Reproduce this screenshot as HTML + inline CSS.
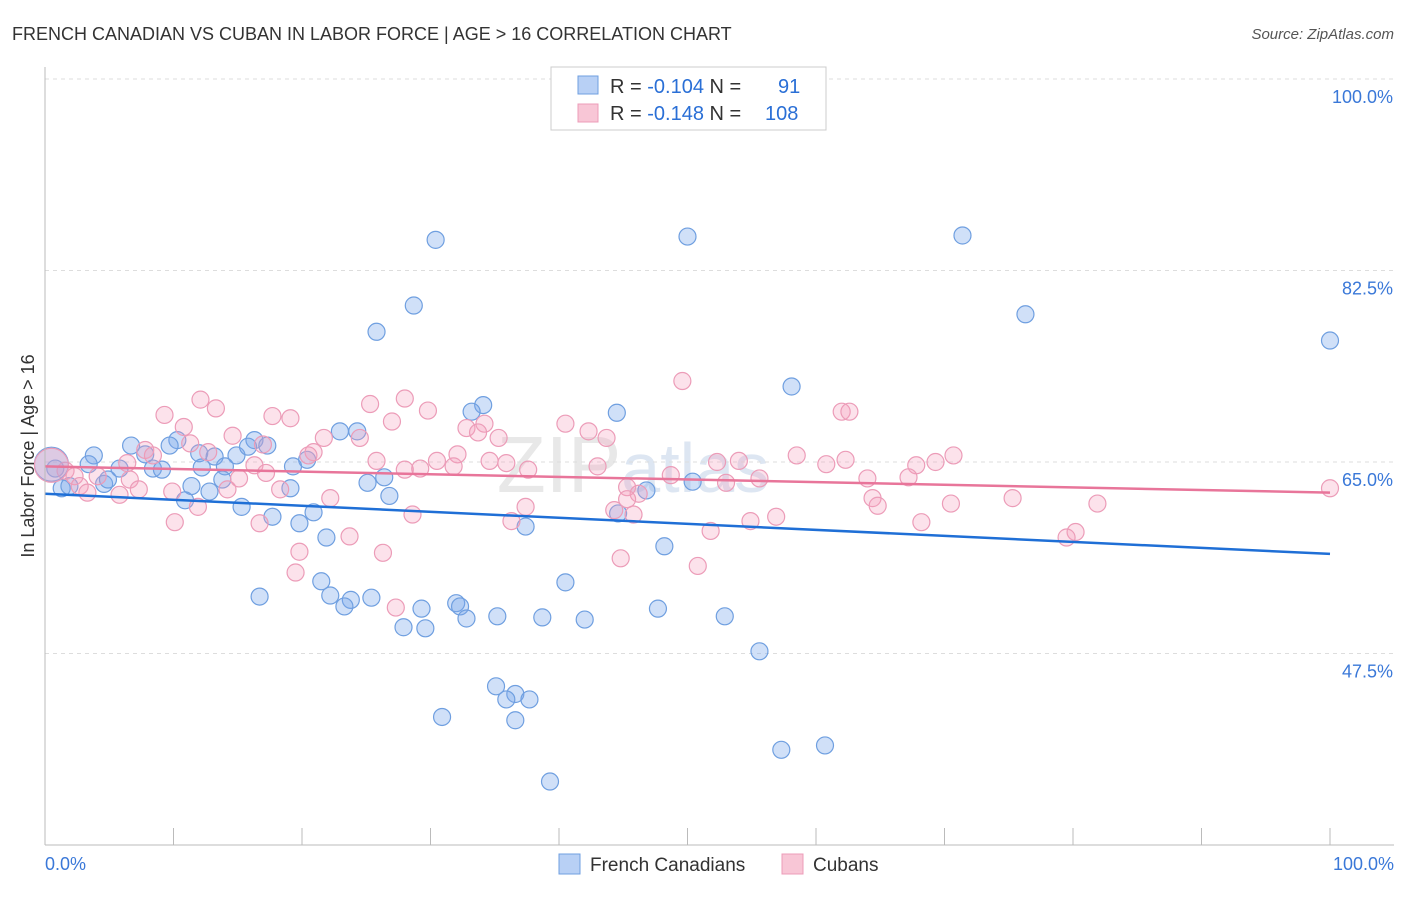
<!DOCTYPE html>
<html><head><meta charset="utf-8"><style>
body{margin:0;background:#fff;font-family:"Liberation Sans",sans-serif}
svg text{font-family:"Liberation Sans",sans-serif}
</style></head><body>
<svg id="c" width="1406" height="892">
<text x="12" y="40" font-size="18" fill="#333">FRENCH CANADIAN VS CUBAN IN LABOR FORCE | AGE &gt; 16 CORRELATION CHART</text>
<text x="1394" y="39" font-size="15" fill="#555" font-style="italic" text-anchor="end">Source: ZipAtlas.com</text>
<text x="633" y="492" font-size="80" fill="#e8e8e8" font-family="Liberation Serif" text-anchor="middle">ZIP<tspan font-family="Liberation Sans" font-size="70" fill="#dde6f2">atlas</tspan></text>
<g id="grid"></g><g id="pts"></g><g id="lines"></g><g id="axes"></g>
<text transform="translate(34,456) rotate(-90)" font-size="18" fill="#333" text-anchor="middle">In Labor Force | Age &gt; 16</text>
<g>
<rect x="551" y="67" width="275" height="63" fill="#fff" stroke="#ccc"/>
<rect x="578" y="76" width="20" height="18" fill="#b8d0f5" stroke="#6f9fe0"/>
<rect x="578" y="104" width="20" height="18" fill="#f8c6d6" stroke="#ec9cb8"/>
<text x="610" y="93" font-size="20" fill="#333">R = <tspan fill="#2a6fd6">-0.104</tspan>   N = <tspan fill="#2a6fd6" x="778">91</tspan></text>
<text x="610" y="120" font-size="20" fill="#333">R = <tspan fill="#2a6fd6">-0.148</tspan>   N = <tspan fill="#2a6fd6" x="765">108</tspan></text>
</g>
<g>
<rect x="559" y="854" width="21" height="20" fill="#b8d0f5" stroke="#6f9fe0"/>
<text x="590" y="871" font-size="19" fill="#333">French Canadians</text>
<rect x="782" y="854" width="21" height="20" fill="#f8c6d6" stroke="#ec9cb8"/>
<text x="813" y="871" font-size="19" fill="#333">Cubans</text>
</g>
</svg>
<script>
const yTicks=[100,82.5,65,47.5];
const yTickLabels=["100.0%","82.5%","65.0%","47.5%"];
const xTickLabels=["0.0%","100.0%"];
const blueX=[30.4,50.0,71.4,28.7,76.3,25.8,100,58.1,34.1,33.2,44.5,22.95,24.3,16.3,17.3,6.7,10.3,9.7,3.8,7.8,12.0,13.2,14.9,15.8,20.4,3.4,5.8,8.4,9.1,12.2,14.0,19.3,0.8,1.3,1.9,4.6,4.9,13.8,26.4,25.1,19.1,11.4,12.8,26.8,46.8,50.4,10.9,15.3,20.9,44.6,17.7,19.8,37.4,21.9,48.2,21.5,40.5,16.7,22.2,23.8,25.4,23.3,29.3,32.0,32.3,35.2,38.7,42.0,47.7,52.9,32.8,27.9,29.6,55.6,35.1,36.6,35.9,37.7,30.9,36.6,57.3,60.7,39.3];
const blueY=[85.3,85.6,85.7,79.3,78.5,76.9,76.1,71.9,70.2,69.6,69.5,67.8,67.8,67.0,66.5,66.5,67.0,66.5,65.6,65.7,65.8,65.5,65.6,66.4,65.2,64.8,64.4,64.4,64.3,64.5,64.6,64.6,64.4,62.6,62.8,63.0,63.4,63.4,63.6,63.1,62.6,62.8,62.3,61.9,62.4,63.2,61.5,60.9,60.4,60.3,60.0,59.4,59.1,58.1,57.3,54.1,54.0,52.7,52.8,52.4,52.6,51.8,51.6,52.1,51.8,50.9,50.8,50.6,51.6,50.9,50.7,49.9,49.8,47.7,44.5,43.8,43.3,43.3,41.7,41.4,38.7,39.1,35.8];
const pinkX=[49.6,28.0,12.1,13.3,25.3,29.8,9.3,17.7,19.1,27.0,34.2,40.5,62.0,62.6,10.8,32.8,33.7,42.3,43.7,14.6,21.7,24.5,35.3,11.3,16.96,7.8,8.4,20.9,20.5,32.1,12.7,58.5,70.7,62.3,54.0,52.3,60.8,69.3,25.8,30.5,34.6,35.9,31.8,43.0,16.3,67.8,37.6,28.0,29.2,6.4,1.6,15.1,17.2,48.7,55.6,64.0,67.2,53.0,6.6,4.1,2.3,2.7,3.3,7.3,5.8,9.9,14.2,18.3,45.3,46.2,45.3,22.2,100,64.4,64.8,75.3,81.9,70.5,11.9,37.4,44.3,28.6,45.8,56.9,54.9,68.2,10.1,16.7,36.3,51.8,80.2,79.5,23.7,19.8,26.3,44.8,50.8,19.5,27.3];
const pinkY=[72.4,70.8,70.7,69.9,70.3,69.7,69.3,69.2,69.0,68.7,68.5,68.5,69.6,69.6,68.2,68.1,67.7,67.8,67.2,67.4,67.2,67.2,67.2,66.7,66.6,66.1,65.6,65.9,65.6,65.7,65.9,65.6,65.6,65.2,65.1,65.0,64.8,65.0,65.1,65.1,65.1,64.9,64.6,64.6,64.7,64.7,64.3,64.3,64.4,64.9,64.2,63.5,64.0,63.8,63.5,63.5,63.6,63.1,63.4,63.7,63.7,62.8,62.2,62.5,62.0,62.3,62.5,62.5,62.7,62.1,61.6,61.7,62.6,61.7,61.0,61.7,61.2,61.2,60.9,60.9,60.6,60.2,60.2,60.0,59.6,59.5,59.5,59.4,59.6,58.7,58.6,58.1,58.2,56.8,56.7,56.2,55.5,54.9,51.7];
const bigX=[0.5,0.5];
const bigY=[64.8,64.7];
const blueTrend=[62.1,56.6];
const pinkTrend=[64.6,62.2];
const NS="http://www.w3.org/2000/svg";
const X0=45,X1=1330,Y100=79,PX=191.5/17.5;
const sx=v=>X0+(X1-X0)*v/100;
const sy=v=>Y100+(100-v)*PX;
function mk(t,a,p){const e=document.createElementNS(NS,t);for(const k in a)e.setAttribute(k,a[k]);p.appendChild(e);return e;}
const grid=document.getElementById('grid'),axes=document.getElementById('axes'),pts=document.getElementById('pts'),lines=document.getElementById('lines');
yTicks.forEach((v,i)=>{
 const l=mk('line',{x1:45,x2:1394,y1:sy(v),y2:sy(v),stroke:'#ddd','stroke-dasharray':'4,4'},grid);
 
 
 const t=mk('text',{x:1393,y:sy(v)+24,'font-size':18,fill:'#3a78d8','text-anchor':'end'},axes);
 t.textContent=yTickLabels[i];
 
 
});
const ya=mk('line',{x1:45,x2:45,y1:67,y2:845,stroke:'#bbb'},axes);


const xa=mk('line',{x1:45,x2:1394,y1:845,y2:845,stroke:'#bbb'},axes);


for(let i=0;i<=10;i++){
 const tk=mk('line',{x1:sx(i*10),x2:sx(i*10),y1:828,y2:845,stroke:'#bbb'},axes);
 
 
}
[[0,'start',45],[100,'end',1394]].forEach((d,i)=>{
 const t=mk('text',{x:d[2],y:870,'font-size':18,fill:'#3a78d8','text-anchor':d[1]},axes);
 t.textContent=xTickLabels[i];
 
 
});
function dots(xs,ys,fill,stroke,name,r){
 xs.forEach((x,i)=>{
  const c=mk('circle',{cx:sx(x),cy:sy(ys[i]),r:r,fill:fill,stroke:stroke,'stroke-width':1.2},pts);
  
  
 });
}
dots(blueX,blueY,'rgba(120,165,235,0.35)','#6f9fe0','french-canadian-point',8.5);
dots(pinkX,pinkY,'rgba(245,160,190,0.3)','#ec9cb8','cuban-point',8.5);
dots([bigX[0]],[bigY[0]],'rgba(120,165,235,0.35)','#6f9fe0','french-canadian-point-large',17);
dots([bigX[1]],[bigY[1]],'rgba(245,160,190,0.35)','#ec9cb8','cuban-point-large',17);
const bl=mk('line',{x1:sx(0),x2:sx(100),y1:sy(blueTrend[0]),y2:sy(blueTrend[1]),stroke:'#1f6fd6','stroke-width':2.5},lines);


const pl=mk('line',{x1:sx(0),x2:sx(100),y1:sy(pinkTrend[0]),y2:sy(pinkTrend[1]),stroke:'#e8759a','stroke-width':2.5},lines);


</script>
</body></html>
